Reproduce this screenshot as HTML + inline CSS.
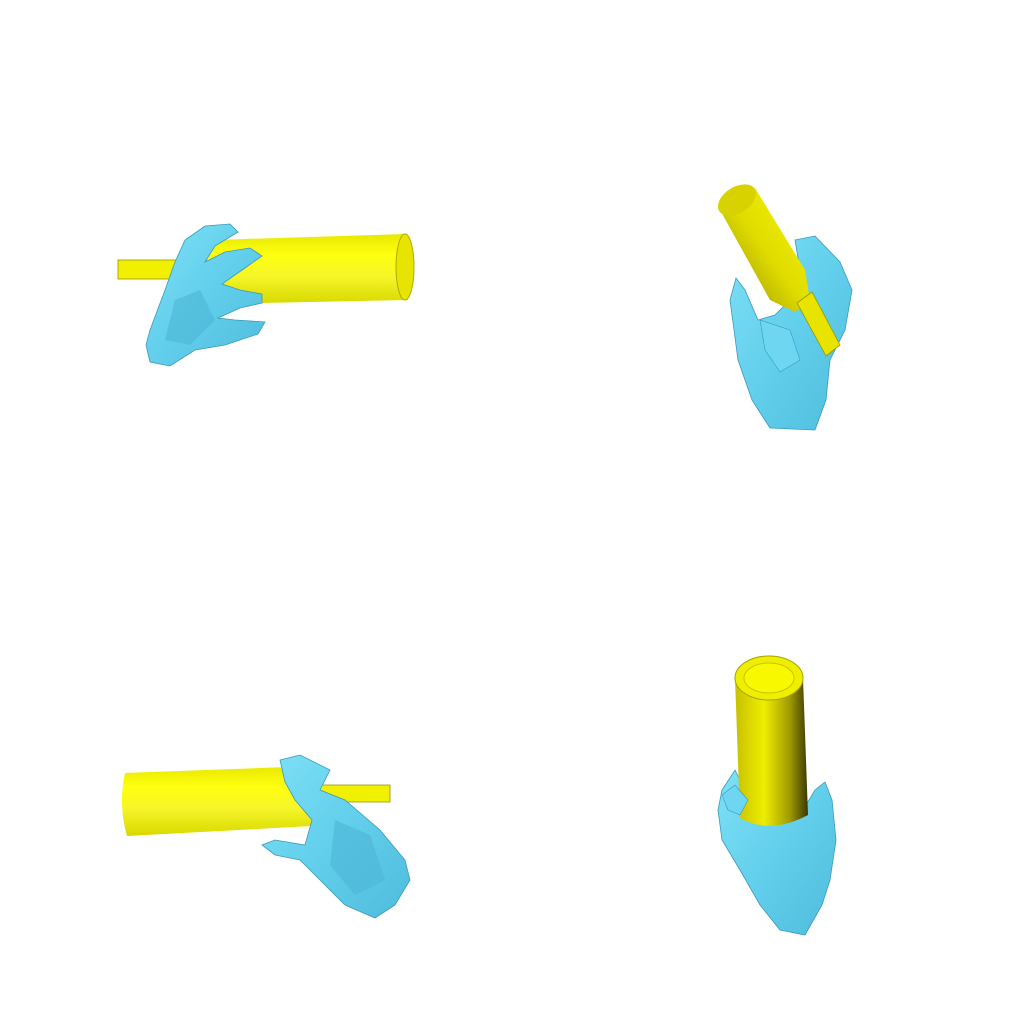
<!DOCTYPE html>
<html><head><meta charset="utf-8"><style>
html,body{margin:0;padding:0;background:#fff;}
svg{display:block;}
</style></head><body>
<svg width="1024" height="1024" viewBox="0 0 1024 1024">
<defs>
<linearGradient id="bodyV" x1="0" y1="0" x2="0" y2="1">
<stop offset="0" stop-color="#e8e800"/><stop offset="0.3" stop-color="#ffff10"/><stop offset="0.6" stop-color="#f6f62a"/><stop offset="1" stop-color="#d8d800"/></linearGradient>
<linearGradient id="bodyH" x1="0" y1="0" x2="1" y2="0">
<stop offset="0" stop-color="#c8c000"/><stop offset="0.4" stop-color="#eeee00"/><stop offset="0.75" stop-color="#a09a00"/><stop offset="1" stop-color="#3a3800"/></linearGradient>
<linearGradient id="bodyD" x1="0" y1="1" x2="1" y2="0">
<stop offset="0" stop-color="#8a8400"/><stop offset="0.5" stop-color="#e0dc00"/><stop offset="1" stop-color="#f8f800"/></linearGradient>
<linearGradient id="hand" x1="0" y1="0" x2="1" y2="1">
<stop offset="0" stop-color="#7fe0f6"/><stop offset="0.5" stop-color="#62cfec"/><stop offset="1" stop-color="#4fbcdc"/></linearGradient>
</defs>

<!-- Top-left -->
<g>
<rect x="118" y="260" width="92" height="19" fill="#f0f000" stroke="#9a9600" stroke-width="0.8"/>
<path d="M212 240 L405 234 L408 300 L214 304 Q200 272 212 240Z" fill="url(#bodyV)"/>
<ellipse cx="405" cy="267" rx="9" ry="33" fill="#e6e400" stroke="#b0ac00"/>
<path fill="url(#hand)" stroke="#3a9ab8" stroke-width="0.8"
d="M150 330 L165 290 L175 262 L185 240 L205 226 L230 224 L238 232 L215 246 L205 262 L225 252 L250 248 L262 256 L245 268 L222 284 L240 290 L262 294 L262 303 L240 308 L218 318 L235 320 L265 322 L258 334 L225 345 L195 350 L170 366 L150 362 L146 345Z"/>
<path d="M175 300 L200 290 L215 320 L190 345 L165 340Z" fill="#4db5d6" opacity="0.6"/>
</g>

<!-- Top-right -->
<g>
<path fill="url(#hand)" stroke="#3a9ab8" stroke-width="0.8"
d="M795 240 L815 236 L840 262 L852 290 L845 330 L830 360 L826 400 L815 430 L770 428 L752 400 L738 360 L730 300 L736 278 L745 290 L758 320 L775 315 L790 300 L800 270Z"/>
<path d="M720 210 L755 188 L805 270 L810 300 L795 312 L770 300Z" fill="url(#bodyD)"/>
<ellipse cx="737" cy="200" rx="21" ry="13" transform="rotate(-32 737 200)" fill="#d8d200"/>
<path d="M797 303 L812 292 L840 345 L826 356Z" fill="#e8e400" stroke="#9a9600" stroke-width="0.8"/>
<path d="M760 320 L790 330 L800 360 L780 372 L765 350Z" fill="#6ed6f0" stroke="#3a9ab8" stroke-width="0.6"/>
</g>

<!-- Bottom-left -->
<g>
<rect x="310" y="785" width="80" height="17" fill="#f0f000" stroke="#9a9600" stroke-width="0.8"/>
<path d="M125 773 L315 766 Q322 800 312 826 L127 836 Q118 805 125 773Z" fill="url(#bodyV)"/>
<path fill="url(#hand)" stroke="#3a9ab8" stroke-width="0.8"
d="M280 760 L300 755 L330 770 L320 790 L345 800 L380 830 L405 860 L410 880 L395 905 L375 918 L345 905 L320 880 L300 860 L275 855 L262 845 L275 840 L305 845 L312 820 L295 800 L285 782Z"/>
<path d="M335 820 L370 835 L385 880 L355 895 L330 865Z" fill="#4db5d6" opacity="0.6"/>
</g>

<!-- Bottom-right -->
<g>
<path fill="url(#hand)" stroke="#3a9ab8" stroke-width="0.8"
d="M735 770 L745 790 L760 800 L800 815 L815 790 L825 782 L832 800 L836 840 L830 880 L822 905 L805 935 L780 930 L760 905 L740 870 L722 840 L718 810 L722 790Z"/>
<path d="M735 678 L803 678 L808 815 Q770 835 740 818Z" fill="url(#bodyH)"/>
<ellipse cx="769" cy="678" rx="34" ry="22" fill="#eeee00" stroke="#a8a400"/>
<ellipse cx="769" cy="678" rx="25" ry="15" fill="#f8f800" stroke="#c8c400"/>
<path d="M722 795 L735 785 L748 800 L740 815 L728 810Z" fill="#6ed6f0" stroke="#3a9ab8" stroke-width="0.6"/>
</g>
</svg>
</body></html>
